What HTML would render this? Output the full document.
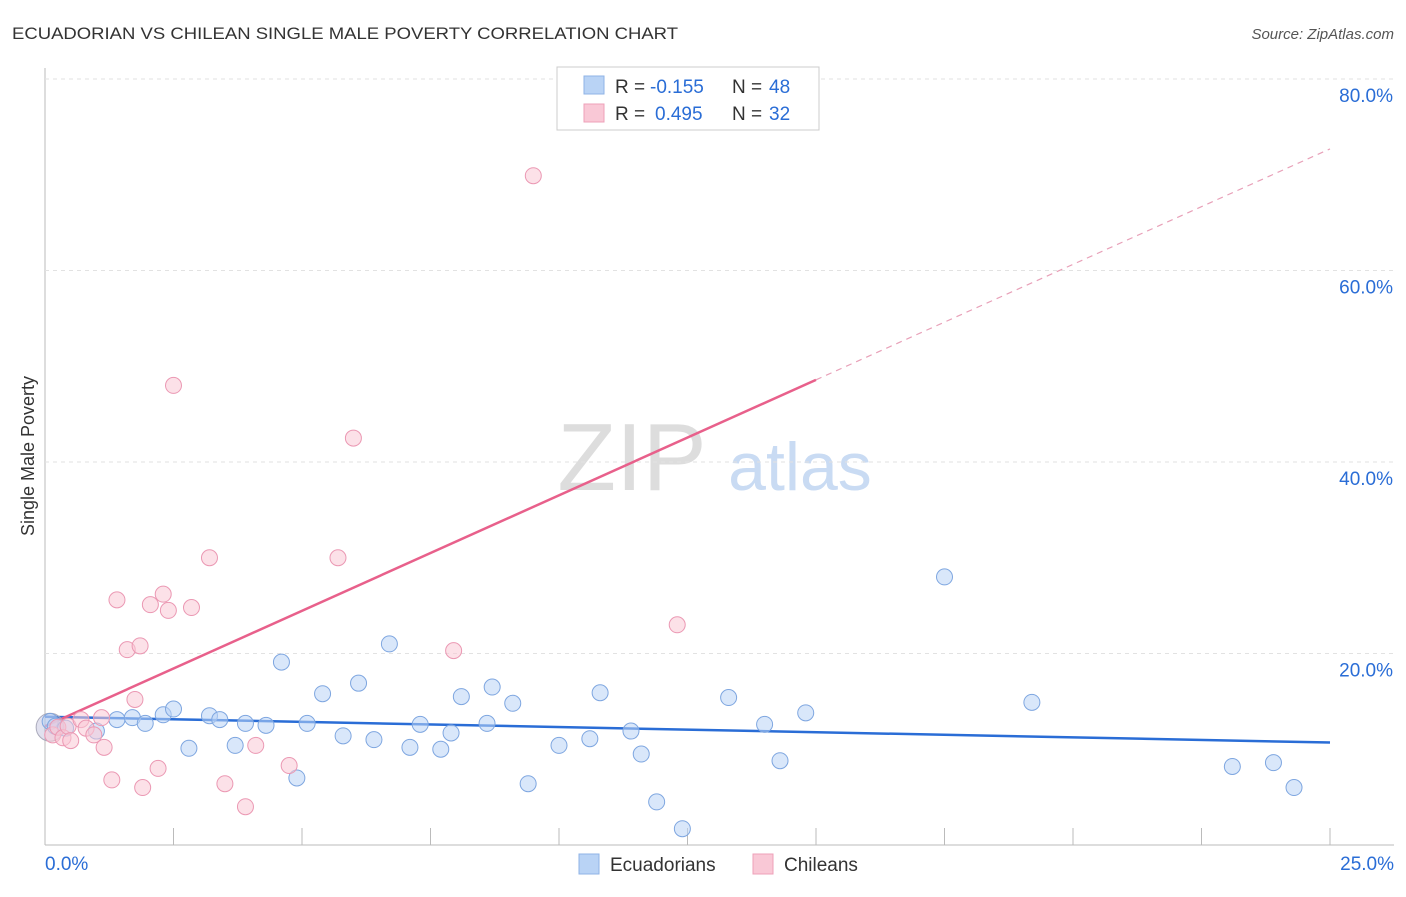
<!DOCTYPE html>
<html><head><meta charset="utf-8"><style>
body{margin:0;background:#fff;font-family:"Liberation Sans",sans-serif;}
svg text{font-family:"Liberation Sans",sans-serif;}
</style></head><body>
<svg id="chart" width="1406" height="892" xmlns="http://www.w3.org/2000/svg">
<text x="12" y="39" font-size="17" fill="#333" textLength="666" lengthAdjust="spacingAndGlyphs">ECUADORIAN VS CHILEAN SINGLE MALE POVERTY CORRELATION CHART</text>
<text x="1394" y="39" font-size="15" fill="#555" text-anchor="end" font-style="italic">Source: ZipAtlas.com</text>
<text x="632" y="490" font-size="96" fill="#ddd" font-family="Liberation Serif" text-anchor="middle">ZIP</text>
<text x="800" y="490" font-size="68" fill="#c9dbf3" text-anchor="middle">atlas</text>
<text transform="translate(34,456) rotate(-90)" font-size="18" fill="#333" text-anchor="middle">Single Male Poverty</text>
<g id="grid"></g><g id="trend"></g><g id="pts"></g>
<g>
<rect x="557" y="67" width="262" height="63" fill="#fff" stroke="#ccc"/>
<rect x="584" y="76" width="20" height="18" fill="#b9d3f5" stroke="#8fb3e6"/>
<text x="615" y="93" font-size="19" fill="#333">R =</text>
<text x="650" y="93" font-size="19" fill="#2a6dd6">-0.155</text>
<text x="732" y="93" font-size="19" fill="#333">N =</text>
<text x="769" y="93" font-size="19" fill="#2a6dd6">48</text>
<rect x="584" y="104" width="20" height="18" fill="#f9c8d6" stroke="#eea0b8"/>
<text x="615" y="120" font-size="19" fill="#333">R =</text>
<text x="655" y="120" font-size="19" fill="#2a6dd6">0.495</text>
<text x="732" y="120" font-size="19" fill="#333">N =</text>
<text x="769" y="120" font-size="19" fill="#2a6dd6">32</text>
</g>
<g>
<rect x="579" y="854" width="20" height="20" fill="#b9d3f5" stroke="#8fb3e6"/>
<text x="610" y="871" font-size="19" fill="#333">Ecuadorians</text>
<rect x="753" y="854" width="20" height="20" fill="#f9c8d6" stroke="#eea0b8"/>
<text x="784" y="871" font-size="19" fill="#333">Chileans</text>
</g>
</svg>
<script>
const xTicks=[0,2.5,5,7.5,10,12.5,15,17.5,20,22.5,25];
const yTicks=[20,40,60,80];
const blueX=[0.1,0.2,0.4,1.0,1.4,1.7,1.95,2.3,2.5,2.8,3.2,3.4,3.7,3.9,4.3,4.6,4.9,5.1,5.4,5.8,6.1,6.4,6.7,7.1,7.3,7.7,7.9,8.1,8.6,8.7,9.1,9.4,10.0,10.6,10.8,11.4,11.6,11.9,12.4,13.3,14.0,14.3,14.8,17.5,19.2,23.1,23.9,24.3];
const blueY=[12.9,12.4,12.2,11.9,13.1,13.3,12.7,13.6,14.2,10.1,13.5,13.1,10.4,12.7,12.5,19.1,7.0,12.7,15.8,11.4,16.9,11.0,21.0,10.2,12.6,10.0,11.7,15.5,12.7,16.5,14.8,6.4,10.4,11.1,15.9,11.9,9.5,4.5,1.7,15.4,12.6,8.8,13.8,28.0,14.9,8.2,8.6,6.0];
const pinkX=[0.15,0.25,0.35,0.45,0.5,0.7,0.8,0.95,1.1,1.15,1.3,1.4,1.6,1.75,1.85,1.9,2.05,2.2,2.3,2.4,2.5,2.85,3.2,3.5,3.9,4.1,4.75,5.7,6.0,7.95,9.5,12.3];
const pinkY=[11.5,12.3,11.2,12.4,10.9,13.1,12.2,11.5,13.3,10.2,6.8,25.6,20.4,15.2,20.8,6.0,25.1,8.0,26.2,24.5,48.0,24.8,30.0,6.4,4.0,10.4,8.3,30.0,42.5,20.3,69.9,23.0];
const blueLine=[13.4,10.7];
const pinkLine=[12.4,72.7];
const NS="http://www.w3.org/2000/svg";
const X=v=>45+v*51.4, Y=v=>845-v*9.575;
function mk(p,t,a){const e=document.createElementNS(NS,t);for(const k in a)e.setAttribute(k,a[k]);p.appendChild(e);return e;}
const g=document.getElementById('grid');
mk(g,'line',{x1:45,y1:68,x2:45,y2:845,stroke:'#bbb'});
mk(g,'line',{x1:45,y1:845,x2:1394,y2:845,stroke:'#bbb'});
yTicks.forEach(t=>{const l=mk(g,'line',{x1:45,y1:Y(t),x2:1394,y2:Y(t),stroke:'#e2e2e2','stroke-dasharray':'4,4'});


const tx=mk(g,'text',{x:1393,y:Y(t)+23,'font-size':19,fill:'#2a6dd6','text-anchor':'end'});tx.textContent=t.toFixed(1)+'%';

});
xTicks.forEach((t,i)=>{if(i>0){const l=mk(g,'line',{x1:X(t),y1:828,x2:X(t),y2:845,stroke:'#bbb'});

}});
[[0,'0.0%','start',45],[25,'25.0%','end',1394]].forEach(a=>{const tx=mk(g,'text',{x:a[3],y:870,'font-size':19,fill:'#2a6dd6','text-anchor':a[2]});tx.textContent=a[1];

});
const tr=document.getElementById('trend');
let l=mk(tr,'line',{x1:X(0),y1:Y(blueLine[0]),x2:X(25),y2:Y(blueLine[1]),stroke:'#2a6dd6','stroke-width':2.5});


const pAt=x=>pinkLine[0]+(pinkLine[1]-pinkLine[0])*x/25;
l=mk(tr,'line',{x1:X(0),y1:Y(pAt(0)),x2:X(15),y2:Y(pAt(15)),stroke:'#e8608b','stroke-width':2.5});


l=mk(tr,'line',{x1:X(15),y1:Y(pAt(15)),x2:X(25),y2:Y(pAt(25)),stroke:'#e8a0b8','stroke-width':1.2,'stroke-dasharray':'6,5'});


const pg=document.getElementById('pts');
const big=mk(pg,'circle',{cx:X(0.1),cy:Y(12.3),r:14,fill:'rgba(170,170,210,0.35)',stroke:'#aab'});


blueX.forEach((x,i)=>{const c=mk(pg,'circle',{cx:X(x),cy:Y(blueY[i]),r:8,fill:'rgba(185,211,245,0.55)',stroke:'#7ea6e0','stroke-width':1});

});
pinkX.forEach((x,i)=>{const c=mk(pg,'circle',{cx:X(x),cy:Y(pinkY[i]),r:8,fill:'rgba(249,200,214,0.55)',stroke:'#eb98b3','stroke-width':1});

});
</script>
</body></html>
